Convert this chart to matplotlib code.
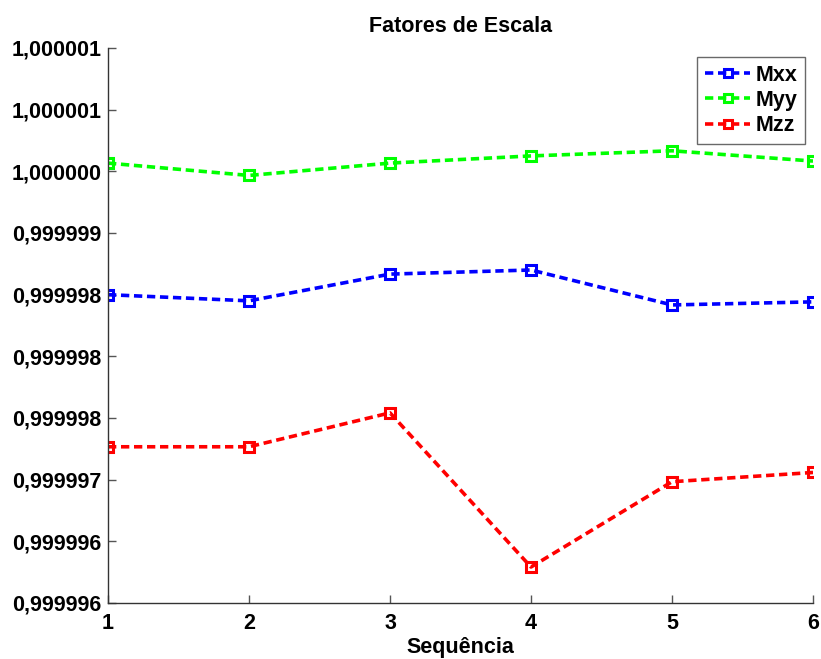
import numpy as np
import matplotlib
matplotlib.use("Agg")
import matplotlib.pyplot as plt

plt.rcParams['font.family'] = ['Liberation Sans', 'DejaVu Sans']
plt.rcParams['font.weight'] = 'bold'

seq = [1, 2, 3, 4, 5, 6]

# scale factors (axis runs 0.9999955 .. 1.0000009 in steps of 6e-7)
mxx = [0.99999850, 0.99999844, 0.99999870, 0.99999874, 0.99999840, 0.99999843]
myy = [0.99999978, 0.99999966, 0.99999978, 0.99999985, 0.99999990, 0.99999980]
mzz = [0.99999702, 0.99999702, 0.99999735, 0.99999585, 0.99999668, 0.99999677]

ytick_vals = [0.9999955 + 6e-7 * i for i in range(10)]
ytick_labels = ['0,999996', '0,999996', '0,999997', '0,999998', '0,999998',
                '0,999998', '0,999999', '1,000000', '1,000001', '1,000001']

fig = plt.figure(figsize=(8.21, 6.59), dpi=100)
ax = fig.add_axes([108 / 821, 56 / 659, 705 / 821, 555 / 659])

style = dict(ls='--', lw=2.6, marker='s', markersize=6.5, mew=2.2,
             markerfacecolor='none', dashes=(2.3, 1.3))
ax.plot(seq, mxx, color='#0000ff', label='Mxx', **style)
ax.plot(seq, myy, color='#00ff00', label='Myy', **style)
ax.plot(seq, mzz, color='#ff0000', label='Mzz', **style)

ax.set_xlim(1, 6)
ax.set_ylim(ytick_vals[0], ytick_vals[-1])
ax.set_xticks(seq)
ax.set_yticks(ytick_vals)
ax.set_yticklabels(ytick_labels)

for s in ['top', 'right']:
    ax.spines[s].set_visible(False)
for s in ['left', 'bottom']:
    ax.spines[s].set_color('#333333')
    ax.spines[s].set_linewidth(1.0)
ax.tick_params(direction='in', length=6, width=1, color='#555555',
               labelsize=15.5)
ax.tick_params(axis='x', pad=7.5)
ax.tick_params(axis='y', pad=4.5)
for lab in ax.get_xticklabels() + ax.get_yticklabels():
    lab.set_fontweight('bold')

ax.set_title('Fatores de Escala', fontsize=15.5, fontweight='bold', pad=11.5)
ax.set_xlabel('Sequência', fontsize=15.5, fontweight='bold', labelpad=2)

leg = ax.legend(loc='upper right', bbox_to_anchor=(0.9887, 0.9838),
                fontsize=15.5, frameon=True, fancybox=False, handlelength=2.1,
                handletextpad=0.25, borderpad=0.35, labelspacing=0.2,
                borderaxespad=0, markerscale=0.9)
leg.get_frame().set_edgecolor('#444444')
leg.get_frame().set_linewidth(1.0)
for t in leg.get_texts():
    t.set_fontweight('bold')

fig.savefig('out.png', dpi=100)
